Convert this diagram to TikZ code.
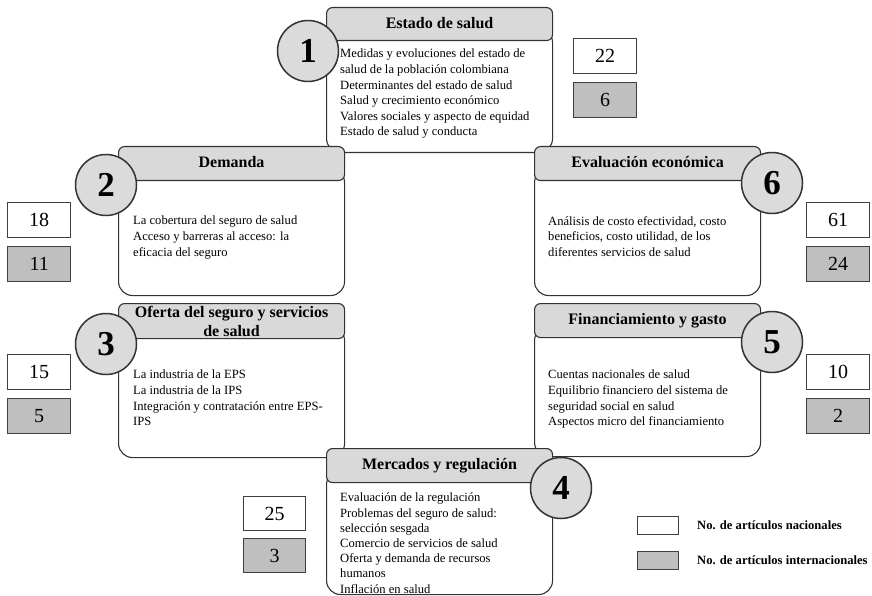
\documentclass[tikz,border=0pt]{standalone}
\usepackage{fontspec}
\setmainfont{Liberation Serif}
\usepackage{tikz}

\begin{document}
\begin{tikzpicture}[x=1pt,y=-1pt,
        body/.style={draw=black!80, line width=1.1pt, fill=white, rounded corners=14pt, minimum width=226pt, inner sep=0pt, anchor=north west},
        head/.style={draw=black!80, line width=1.1pt, fill=black!15, rounded corners=6pt, minimum width=226pt, minimum height=34pt, inner sep=0pt, anchor=north west, align=center, text height=11pt, text depth=3pt, font=\fontsize{16}{19}\selectfont\bfseries},
        topics/.style={anchor=north west, align=left, inner sep=0pt, font=\fontsize{12.6}{15.6}\selectfont},
        badge/.style={circle, draw=black!80, line width=1.5pt, fill=black!14, minimum size=61pt, inner sep=0pt, font=\fontsize{35}{35}\selectfont\bfseries},
        nat/.style={draw=black!75, line width=1.3pt, fill=white, minimum width=63pt, minimum height=35pt, inner sep=0pt, anchor=north west, font=\fontsize{20}{20}\selectfont},
        intl/.style={nat, fill=black!25},
        legtxt/.style={anchor=west, inner sep=0pt, font=\fontsize{12.6}{14}\selectfont\bfseries}]
    \useasboundingbox (0,0) rectangle (872,596);
    % cuerpos
    \node[body, minimum height=124pt] (b1) at (326,28) {};
    \node[body, minimum height=127pt] (b2) at (118,168) {};
    \node[body, minimum height=131pt] (b3) at (118,326) {};
    \node[body, minimum height=124pt] (b4) at (326,470) {};
    \node[body, minimum height=130pt] (b5) at (534,326) {};
    \node[body, minimum height=127pt] (b6) at (534,168) {};
    % titulos
    \node[head, minimum height=33pt] (hd1) at (326,7) {Estado de salud};
    \node[head] (hd2) at (118,146) {Demanda};
    \node[head, minimum height=35pt, text height=, text depth=] (hd3) at (118,303) {Oferta del seguro y servicios\\ de salud};
    \node[head] (hd4) at (326,448) {Mercados y regulación};
    \node[head] (hd5) at (534,303) {Financiamiento y gasto};
    \node[head] (hd6) at (534,146) {Evaluación económica};
    % temas
    \node[topics] (t1) at (340,49) {Medidas y evoluciones del estado de\\ salud de la población colombiana\\ Determinantes del estado de salud\\ Salud y crecimiento económico\\ Valores sociales y aspecto de equidad\\ Estado de salud y conducta};
    \node[topics] (t2) at (133,216) {La cobertura del seguro de salud\\ Acceso y barreras al acceso: la\\ eficacia del seguro};
    \node[topics] (t3) at (133,370) {La industria de la EPS\\ La industria de la IPS\\ Integración y contratación entre EPS-\\ IPS};
    \node[topics, font=\fontsize{12.6}{15.2}\selectfont] (t4) at (340,493) {Evaluación de la regulación\\ Problemas del seguro de salud:\\ selección sesgada\\ Comercio de servicios de salud\\ Oferta y demanda de recursos\\ humanos\\ Inflación en salud};
    \node[topics] (t5) at (548,370) {Cuentas nacionales de salud\\ Equilibrio financiero del sistema de\\ seguridad social en salud\\ Aspectos micro del financiamiento};
    \node[topics] (t6) at (548,216) {Análisis de costo efectividad, costo\\ beneficios, costo utilidad, de los\\ diferentes servicios de salud};
    % numeros
    \node[badge] (c1) at (308,51) {1};
    \node[badge] (c2) at (106,185) {2};
    \node[badge] (c3) at (106,344) {3};
    \node[badge] (c4) at (561,488) {4};
    \node[badge] (c5) at (772,342) {5};
    \node[badge] (c6) at (772,183) {6};
    % articulos
    \node[nat] (n1) at (573,38) {22};
    \node[intl] (i1) at (573,82) {6};
    \node[nat] (n2) at (7,202) {18};
    \node[intl] (i2) at (7,246) {11};
    \node[nat] (n3) at (7,354) {15};
    \node[intl] (i3) at (7,398) {5};
    \node[nat, minimum width=62pt, minimum height=34pt] (n4) at (243,496) {25};
    \node[intl, minimum width=62pt, minimum height=34pt] (i4) at (243,538) {3};
    \node[nat] (n5) at (806,354) {10};
    \node[intl] (i5) at (806,398) {2};
    \node[nat] (n6) at (806,202) {61};
    \node[intl] (i6) at (806,246) {24};
    % leyenda
    \node[nat, minimum width=41pt, minimum height=18pt] (lnat) at (637,516) {};
    \node[intl, minimum width=41pt, minimum height=18pt] (lint) at (637,551) {};
    \node[legtxt] (lnattxt) at (697,525) {No. de artículos nacionales};
    \node[legtxt] (linttxt) at (697,560) {No. de artículos internacionales};
\end{tikzpicture}
\end{document}
